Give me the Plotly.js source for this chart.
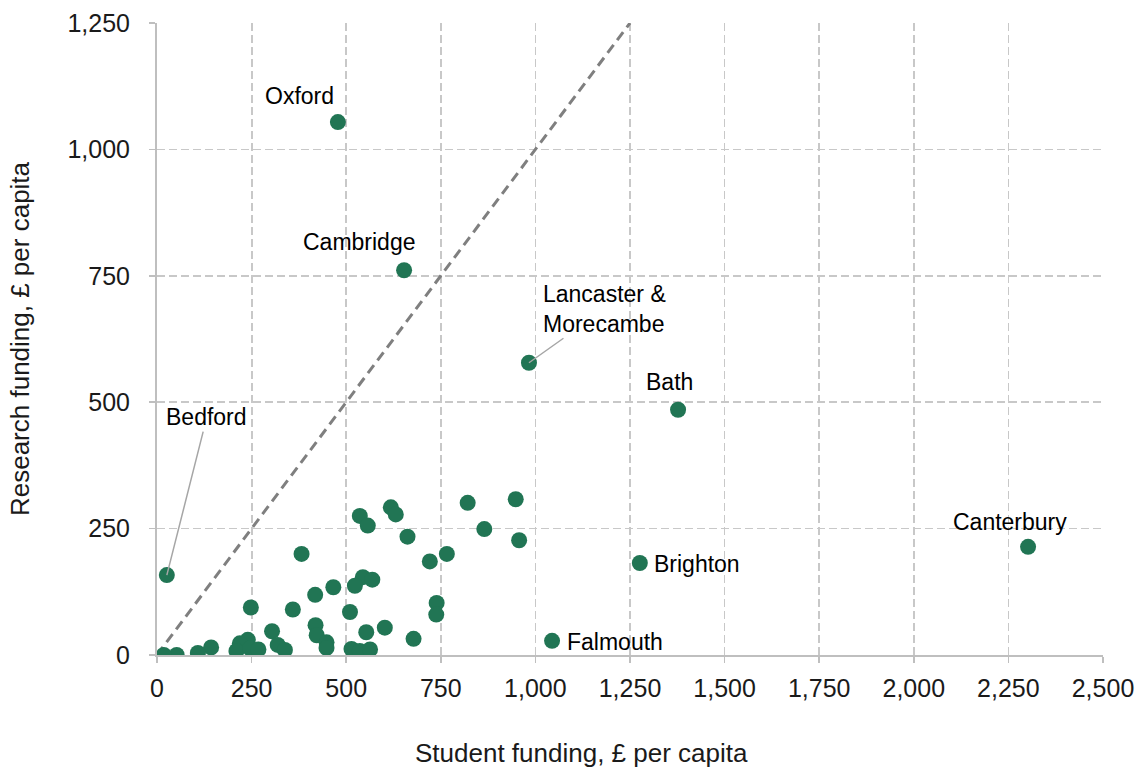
<!DOCTYPE html>
<html><head><meta charset="utf-8">
<script src="https://cdn.plot.ly/plotly-3.0.1.min.js"></script>
<style>body{margin:0;background:#fff}#chart{width:1141px;height:770px}</style>
</head><body><div id="chart"></div>
<script>
// Named places
const namedPlaces = ["Oxford","Cambridge","Lancaster & Morecambe","Bath","Canterbury","Brighton","Falmouth","Bedford"];
const namedStudent = [478, 653, 983, 1377, 2302, 1276, 1044, 26];
const namedResearch = [1054, 761, 578, 485, 214, 182, 28, 158];

// Other (unlabelled) places
const otherStudent = [382, 248, 359, 418, 466, 510, 419, 422, 448, 448, 304, 319, 338, 240, 219, 210, 246, 268, 143, 108, 52, 18,
  536, 557, 618, 631, 821, 948, 662, 865, 957, 766, 721, 544, 569, 523, 739, 738, 553, 602, 678, 514, 536, 563];
const otherResearch = [200, 94, 90, 119, 134, 85, 59, 39, 25, 14, 47, 20, 10, 30, 23, 8, 13, 11, 15, 4, 0, 0,
  275, 256, 292, 278, 301, 308, 234, 249, 227, 200, 185, 154, 149, 137, 103, 80, 45, 54, 32, 12, 8, 11];

// Reference line y = x
const refLineX = [0, 1250];
const refLineY = [0, 1250];

const xTicks = [0,250,500,750,1000,1250,1500,1750,2000,2250,2500];
const yTicks = [0,250,500,750,1000,1250];
const xTitle = 'Student funding, £ per capita';
const yTitle = 'Research funding, £ per capita';

const green = '#217554';
const font = 'Liberation Sans, Arial, sans-serif';

const traces = [
  {x: refLineX, y: refLineY, mode: 'lines', line: {color: '#7f7f7f', width: 3, dash: '10px,6px'}, hoverinfo: 'skip'},
  {x: otherStudent, y: otherResearch, mode: 'markers', marker: {color: green, size: 16}},
  {x: namedStudent, y: namedResearch, text: namedPlaces, mode: 'markers', marker: {color: green, size: 16}}
];

// label placement (pixel offsets)
const labelCfg = {
  "Oxford": {xshift: -38, yshift: 26},
  "Cambridge": {xshift: -45, yshift: 28},
  "Bath": {xshift: -9, yshift: 28},
  "Canterbury": {xshift: -18, yshift: 25},
  "Brighton": {xshift: 12, yshift: -1, xanchor: 'left'},
  "Falmouth": {xshift: 13, yshift: -1, xanchor: 'left'}
};
const labelFont = {family: font, size: 23, color: '#000'};
const annotations = [];
namedPlaces.forEach((n, i) => {
  const base = {x: namedStudent[i], y: namedResearch[i], xref: 'x', yref: 'y', font: labelFont};
  if (labelCfg[n]) {
    const c = labelCfg[n];
    annotations.push(Object.assign(base, {text: n, showarrow: false, xanchor: c.xanchor || 'center', yanchor: 'middle', xshift: c.xshift, yshift: c.yshift}));
  } else if (n === 'Bedford') {
    annotations.push(Object.assign(base, {text: n, showarrow: true, arrowhead: 0, arrowwidth: 1.5, arrowcolor: '#a6a6a6', ax: 40, ay: -158, standoff: 0}));
  } else {
    annotations.push(Object.assign(base, {text: 'Lancaster &amp;<br>Morecambe', align: 'left', showarrow: true, arrowhead: 0, arrowwidth: 1.5, arrowcolor: '#a6a6a6', ax: 76, ay: -54, standoff: 0}));
  }
});
// x-axis title (slightly left of the plot centre, as in the original)
annotations.push({text: xTitle, xref: 'paper', yref: 'paper', x: 0.449, y: 0, yshift: -98, xanchor: 'center', yanchor: 'middle', showarrow: false,
  font: {family: font, size: 26, color: '#1a1a1a'}});

const axisCommon = {
  showline: true, linecolor: '#bfbfbf', linewidth: 2,
  ticks: 'outside', ticklen: 6, tickcolor: '#bfbfbf', tickwidth: 1.5,
  showgrid: true, gridcolor: '#c8c8c8', gridwidth: 1.8, griddash: '8px,4px',
  zeroline: false,
  tickfont: {family: font, size: 25, color: '#1a1a1a'}
};

const layout = {
  width: 1141, height: 770,
  margin: {l: 157, r: 38, t: 23, b: 115},
  paper_bgcolor: '#fff', plot_bgcolor: '#fff',
  showlegend: false,
  xaxis: Object.assign({}, axisCommon, {
    range: [0, 2500], tickvals: xTicks, ticktext: xTicks.map(v => v.toLocaleString('en-GB')),
    ticklabelstandoff: 4, automargin: false
  }),
  yaxis: Object.assign({}, axisCommon, {
    range: [0, 1250], tickvals: yTicks, ticktext: yTicks.map(v => v.toLocaleString('en-GB')),
    ticklabelstandoff: 14, automargin: false,
    title: {text: yTitle, font: {family: font, size: 26, color: '#1a1a1a'}, standoff: 30}
  }),
  annotations: annotations
};

Plotly.newPlot('chart', traces, layout, {displayModeBar: false, staticPlot: true});
</script></body></html>
